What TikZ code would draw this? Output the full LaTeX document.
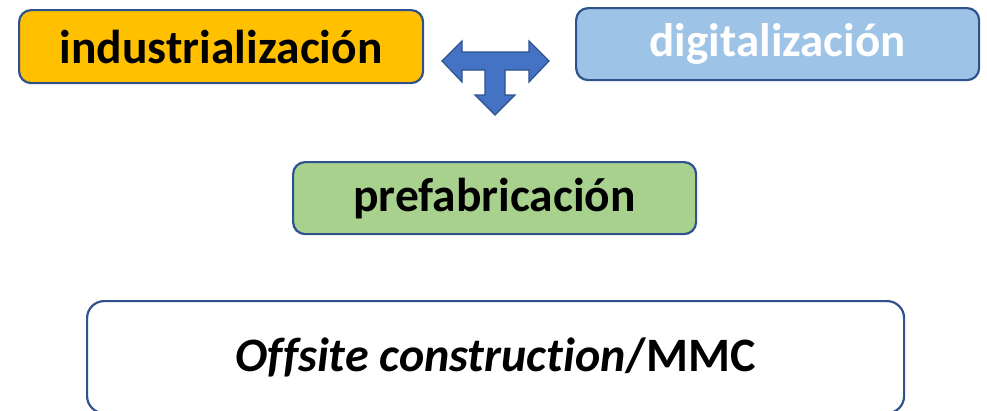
\documentclass[tikz,border=0pt]{standalone}
\usepackage{fontspec}
\setmainfont{Carlito}[Ligatures={NoCommon}]
\usetikzlibrary{positioning}
\definecolor{boxline}{HTML}{2F528F}
\definecolor{indyellow}{HTML}{FFC000}
\definecolor{digblue}{HTML}{9DC3E6}
\definecolor{prefgreen}{HTML}{A9D18E}
\definecolor{arrowblue}{HTML}{4472C4}
\begin{document}
\begin{tikzpicture}[x=1pt,y=-1pt,
    tag/.style={draw=boxline,line width=2.2pt,rounded corners=12pt,inner sep=0pt,anchor=north west,font=\bfseries},
    ]
\clip (0,0) rectangle (987,410);
\useasboundingbox (0,0) rectangle (987,410);

\node[tag,fill=indyellow,minimum width=404pt,minimum height=73pt,font=\fontsize{47.5}{56}\selectfont\bfseries] (indus) at (18,9) {industrialización};
\node[tag,fill=digblue,text=white,minimum width=403pt,minimum height=72pt,font=\fontsize{47}{56}\selectfont\bfseries] (digit) at (575,7) {digitalización};
\node[tag,fill=prefgreen,minimum width=403pt,minimum height=72pt,font=\fontsize{47.5}{56}\selectfont\bfseries] (prefab) at (292,161) {prefabricación};
\node[tag,rounded corners=17pt,fill=white,minimum width=817pt,minimum height=112pt,font=\fontsize{48}{57}\selectfont\bfseries] (offsite) at (86,300) {\textit{Offsite construction}/MMC};

% T-shaped arrow
\filldraw[fill=arrowblue,draw=boxline,line width=1.2pt,line join=miter]
  (442,61) -- (462,41) -- (462,52) -- (529,52) -- (529,41) -- (549,61) -- (529,82) -- (529,70)
  -- (505,70) -- (505,95) -- (515,95) -- (495,115) -- (475,95) -- (485,95) -- (485,70) -- (462,70) -- (462,82) -- cycle;
\end{tikzpicture}
\end{document}
